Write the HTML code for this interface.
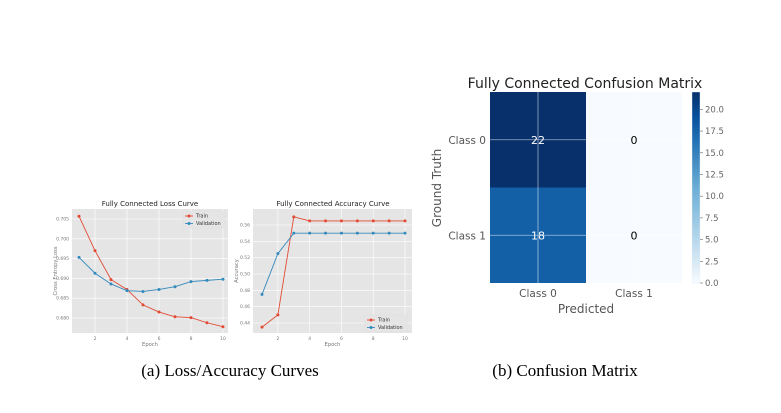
<!DOCTYPE html>
<html><head><meta charset="utf-8"><style>
body{margin:0;background:#fff;}
svg{display:block;font-family:"DejaVu Sans","Liberation Sans",sans-serif;}
</style></head><body>
<svg id="s" width="781" height="413" viewBox="0 0 781 413">
<text x="230" y="376" font-family="Liberation Serif,serif" font-size="17" text-anchor="middle">(a) Loss/Accuracy Curves</text>
<text x="565" y="376" font-family="Liberation Serif,serif" font-size="17" text-anchor="middle">(b) Confusion Matrix</text>
</svg>
<script>
const epochs=[1,2,3,4,5,6,7,8,9,10];
const lossTrain=[0.7057,0.6970,0.6897,0.6872,0.6833,0.6815,0.6803,0.6801,0.6788,0.6778];
const lossVal=[0.6953,0.6913,0.6886,0.6869,0.6867,0.6872,0.6879,0.6892,0.6895,0.6898];
const accTrain=[0.435,0.450,0.570,0.565,0.565,0.565,0.565,0.565,0.565,0.565];
const accVal=[0.475,0.525,0.550,0.550,0.550,0.550,0.550,0.550,0.550,0.550];
const lossTicks=[0.680,0.685,0.690,0.695,0.700,0.705];
const accTicks=[0.44,0.46,0.48,0.50,0.52,0.54,0.56];
const xTicks=[2,4,6,8,10];
const cmValues=[[22,0],[18,0]];
const cmClasses=["Class 0","Class 1"];
const cbTicks=[0,2.5,5,7.5,10,12.5,15,17.5,20];

const S=document.getElementById('s');const NS='http://www.w3.org/2000/svg';
function mk(t,a,txt){const e=document.createElementNS(NS,t);for(const k in a)e.setAttribute(k,a[k]);if(txt!==undefined)e.textContent=txt;S.appendChild(e);return e;}

function linePlot(o){
 const sx=v=>o.x1+(v-1)/(9)*(o.x10-o.x1);
 const sy=v=>o.yA+(v-o.vA)/(o.vB-o.vA)*(o.yB-o.yA);
 let e=mk('rect',{x:o.L,y:o.T,width:o.R-o.L,height:o.B-o.T,fill:'#e5e5e5'});
 
 xTicks.forEach(t=>{mk('line',{x1:sx(t),x2:sx(t),y1:o.T,y2:o.B,stroke:'#fff','stroke-width':0.6});
  e=mk('text',{x:sx(t),y:o.B+7,'font-size':4.5,fill:'#777','text-anchor':'middle'},t);
  });
 o.ticks.forEach(t=>{mk('line',{x1:o.L,x2:o.R,y1:sy(t),y2:sy(t),stroke:'#fff','stroke-width':0.6});
  e=mk('text',{x:o.L-3,y:sy(t)+1.5,'font-size':4.5,fill:'#777','text-anchor':'end'},t.toFixed(o.dec));
  });
 e=mk('text',{x:o.T0x,y:o.T-3,'font-size':7,fill:'#222','text-anchor':'middle'},o.title);
 
 e=mk('text',{x:(o.L+o.R)/2,y:o.B+13,'font-size':5.2,fill:'#777','text-anchor':'middle'},'Epoch');
 
 const yc=(o.T+o.B)/2;
 e=mk('text',{x:o.L-15,y:yc,'font-size':5.2,fill:'#777','text-anchor':'middle',transform:`rotate(-90 ${o.L-15} ${yc})`},o.ylab);
 
 [[o.tr,'#e24a33','train'],[o.va,'#348abd','validation']].forEach(([d,c,nm])=>{
  e=mk('polyline',{points:d.map((v,i)=>sx(epochs[i])+','+sy(v)).join(' '),fill:'none',stroke:c,'stroke-width':0.9});
  
  d.forEach((v,i)=>{e=mk('circle',{cx:sx(epochs[i]),cy:sy(v),r:1.5,fill:c});
   });
 });
 const lx=o.legX,ly=o.legY;
 e=mk('rect',{x:lx,y:ly,width:42,height:17,fill:'#e5e5e5',stroke:'#ddd','stroke-width':0.4});
 
 [['Train','#e24a33'],['Validation','#348abd']].forEach(([t,c],k)=>{const y=ly+5+k*7.5;
  mk('line',{x1:lx+2,x2:lx+10,y1:y,y2:y,stroke:c,'stroke-width':0.9});mk('circle',{cx:lx+6,cy:y,r:1.5,fill:c});
  e=mk('text',{x:lx+13,y:y+1.7,'font-size':5,fill:'#333'},t);
  });
}
linePlot({n:'loss',L:72,R:228,T:209,B:333,x1:79,x10:223,yA:219,vA:0.705,yB:318,vB:0.680,ticks:lossTicks,dec:3,
 tr:lossTrain,va:lossVal,title:'Fully Connected Loss Curve',T0x:150,ylab:'Cross Entropy Loss',legX:183,legY:211});
linePlot({n:'acc',L:253,R:412,T:209,B:333,x1:262,x10:405,yA:225,vA:0.56,yB:323,vB:0.44,ticks:accTicks,dec:2,
 tr:accTrain,va:accVal,title:'Fully Connected Accuracy Curve',T0x:333,ylab:'Accuracy',legX:365,legY:315});

// confusion matrix
const cmL=490,cmR=682,cmT=92,cmB=283,vmax=22;
const stops=[[0,[247,251,255]],[0.5,[107,174,214]],[0.75,[33,113,181]],[0.875,[8,81,156]],[1,[8,48,107]]];
function blues(v){const t=v/vmax;for(let i=1;i<stops.length;i++){if(t<=stops[i][0]){const [t0,a]=stops[i-1],[t1,b]=stops[i];const u=(t-t0)/(t1-t0);
 return 'rgb('+a.map((x,k)=>Math.round(x+(b[k]-x)*u)).join(',')+')';}}return 'rgb(8,48,107)';}
const cw=(cmR-cmL)/2,ch=(cmB-cmT)/2;let e;
cmValues.forEach((row,r)=>row.forEach((v,c)=>{
 e=mk('rect',{x:cmL+c*cw,y:cmT+r*ch,width:cw,height:ch,fill:blues(v)});
 
}));
cmClasses.forEach((n,i)=>{const cx=cmL+cw*(i+0.5),cy=cmT+ch*(i+0.5);
 mk('line',{x1:cx,x2:cx,y1:cmT,y2:cmB,stroke:'#fff','stroke-opacity':0.6,'stroke-width':0.8});
 mk('line',{x1:cmL,x2:cmR,y1:cy,y2:cy,stroke:'#fff','stroke-opacity':0.6,'stroke-width':0.8});
 e=mk('text',{x:cx,y:cmB+14,'font-size':10.5,fill:'#555','text-anchor':'middle'},n);
 
 e=mk('text',{x:cmL-4,y:cy+4,'font-size':10.5,fill:'#555','text-anchor':'end'},n);
 });
cmValues.forEach((row,r)=>row.forEach((v,c)=>{
 e=mk('text',{x:cmL+cw*(c+0.5),y:cmT+ch*(r+0.5)+4,'font-size':11,fill:v>vmax/2?'#fff':'#000','text-anchor':'middle'},v);
 }));
e=mk('text',{x:585,y:88,'font-size':14,fill:'#222','text-anchor':'middle'},'Fully Connected Confusion Matrix');

e=mk('text',{x:586,y:313,'font-size':12,fill:'#555','text-anchor':'middle'},'Predicted');

e=mk('text',{x:441,y:188,'font-size':12,fill:'#555','text-anchor':'middle',transform:'rotate(-90 441 188)'},'Ground Truth');

// colorbar
const cbL=692,cbW=8,cbY=v=>cmB-(v/vmax)*(cmB-cmT);
for(let i=0;i<60;i++){const v0=i/60*vmax,v1=(i+1)/60*vmax;
 mk('rect',{x:cbL,y:cbY(v1),width:cbW,height:cbY(v0)-cbY(v1)+0.5,fill:blues((v0+v1)/2)});}
e=mk('rect',{x:cbL,y:cmT,width:cbW,height:cmB-cmT,fill:'none',stroke:'#eee','stroke-width':0.4});

cbTicks.forEach(t=>{mk('line',{x1:cbL+cbW,x2:cbL+cbW+3,y1:cbY(t),y2:cbY(t),stroke:'#666','stroke-width':0.6});
 e=mk('text',{x:cbL+cbW+5,y:cbY(t)+3,'font-size':8.5,fill:'#666'},t.toFixed(1));
 });
</script>
</body></html>
